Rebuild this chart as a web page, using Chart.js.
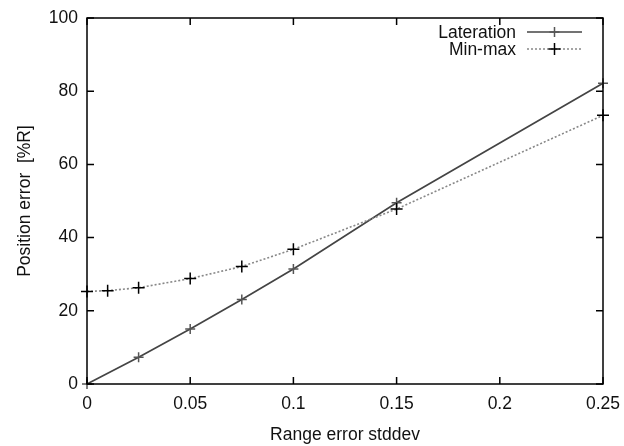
<!DOCTYPE html>
<html>
<head>
<meta charset="utf-8">
<script src="https://cdn.jsdelivr.net/npm/chart.js@4/dist/chart.umd.min.js"></script>
<style>
html,body{margin:0;padding:0;background:#fff;}
#wrap{width:624px;height:446px;position:relative;}
</style>
</head>
<body>
<div id="wrap"><canvas id="c" width="624" height="446"></canvas></div>
<script>
const seriesNames = ["Lateration", "Min-max"];
const latX = [0, 0.025, 0.05, 0.075, 0.1, 0.15, 0.25];
const latY = [0, 7.3, 15.0, 23.1, 31.4, 49.5, 82.2];
const mmX = [0, 0.01, 0.025, 0.05, 0.075, 0.1, 0.15, 0.25];
const mmY = [25.3, 25.5, 26.3, 28.8, 32.1, 36.8, 47.8, 73.4];
const xTicks = [0, 0.05, 0.1, 0.15, 0.2, 0.25];
const yTicks = [0, 20, 40, 60, 80, 100];
const xTitle = "Range error stddev";
const yTitle = "Position error  [%R]";

const FONT = "'Liberation Sans', Arial, Helvetica, sans-serif";
const FS = 17.5;

function pts(xs, ys){ return xs.map((x,i)=>({x:x, y:ys[i]})); }

const framePlugin = {
  id: 'frame',
  afterDraw(chart){
    const ctx = chart.ctx, a = chart.chartArea;
    const sx = chart.scales.x, sy = chart.scales.y;
    ctx.save();
    ctx.strokeStyle = '#000';
    ctx.lineWidth = 1.5;
    ctx.strokeRect(a.left, a.top, a.right - a.left, a.bottom - a.top);
    const tl = 7;
    ctx.beginPath();
    xTicks.forEach(v=>{
      const px = sx.getPixelForValue(v);
      ctx.moveTo(px, a.bottom); ctx.lineTo(px, a.bottom - tl);
      ctx.moveTo(px, a.top); ctx.lineTo(px, a.top + tl);
    });
    yTicks.forEach(v=>{
      const py = sy.getPixelForValue(v);
      ctx.moveTo(a.left, py); ctx.lineTo(a.left + tl, py);
      ctx.moveTo(a.right, py); ctx.lineTo(a.right - tl, py);
    });
    ctx.stroke();

    // legend
    const ds = chart.data.datasets;
    const textRight = 516, lineL = 527, lineR = 582, rows = [32, 49];
    ctx.font = FS + 'px ' + FONT;
    ctx.fillStyle = '#111';
    ctx.textAlign = 'right';
    ctx.textBaseline = 'middle';
    ds.forEach((d,i)=>{
      const y = rows[i];
      ctx.fillText(d.label, textRight, y + 1);
      ctx.save();
      ctx.strokeStyle = d.borderColor;
      ctx.lineWidth = d.borderWidth;
      ctx.setLineDash(d.borderDash || []);
      ctx.beginPath(); ctx.moveTo(lineL, y); ctx.lineTo(lineR, y); ctx.stroke();
      ctx.setLineDash([]);
      ctx.strokeStyle = d.pointBorderColor;
      ctx.lineWidth = d.pointBorderWidth;
      const r = d.pointRadius, cx = (lineL + lineR)/2;
      ctx.beginPath();
      ctx.moveTo(cx - r, y); ctx.lineTo(cx + r, y);
      ctx.moveTo(cx, y - r); ctx.lineTo(cx, y + r);
      ctx.stroke();
      ctx.restore();
    });
    ctx.restore();
  }
};

new Chart(document.getElementById('c'), {
  type: 'scatter',
  data: {
    datasets: [
      {
        label: seriesNames[0],
        data: pts(latX, latY),
        showLine: true,
        borderColor: '#444',
        borderWidth: 1.7,
        pointStyle: 'cross',
        pointRadius: 5,
        pointBorderColor: '#555',
        pointBorderWidth: 1.5,
        pointBackgroundColor: '#555',
        clip: false,
        order: 2
      },
      {
        label: seriesNames[1],
        data: pts(mmX, mmY),
        showLine: true,
        borderColor: '#888',
        borderWidth: 1.6,
        borderDash: [2, 2],
        pointStyle: 'cross',
        pointRadius: 6,
        pointBorderColor: '#000',
        pointBorderWidth: 1.5,
        pointBackgroundColor: '#000',
        clip: false,
        order: 1
      }
    ]
  },
  options: {
    responsive: false,
    animation: false,
    events: [],
    layout: { padding: { left: 15, right: 21, top: 18, bottom: 0 } },
    plugins: { legend: { display: false }, tooltip: { enabled: false } },
    scales: {
      x: {
        type: 'linear',
        min: 0, max: 0.25,
        afterBuildTicks(s){ s.ticks = xTicks.map(v=>({value:v})); },
        afterFit(s){ s.height = 62; s.paddingLeft = 0; s.paddingRight = 0; },
        grid: { display: false, drawTicks: false },
        border: { display: false },
        ticks: {
          color: '#111', padding: 10,
          font: { family: FONT, size: FS },
          maxRotation: 0,
          callback: v => String(v)
        },
        title: { display: true, text: xTitle, color: '#111', padding: { top: 16, bottom: 0 },
                 font: { family: FONT, size: FS } }
      },
      y: {
        type: 'linear',
        min: 0, max: 100,
        afterBuildTicks(s){ s.ticks = yTicks.map(v=>({value:v})); },
        afterFit(s){ s.width = 72; s.paddingTop = 0; s.paddingBottom = 0; },
        grid: { display: false, drawTicks: false },
        border: { display: false },
        ticks: {
          color: '#111', padding: 9,
          font: { family: FONT, size: FS },
          callback: v => String(v)
        },
        title: { display: true, text: yTitle, color: '#111', padding: { top: 0, bottom: 4 },
                 font: { family: FONT, size: FS } }
      }
    }
  },
  plugins: [framePlugin]
});
</script>
</body>
</html>
